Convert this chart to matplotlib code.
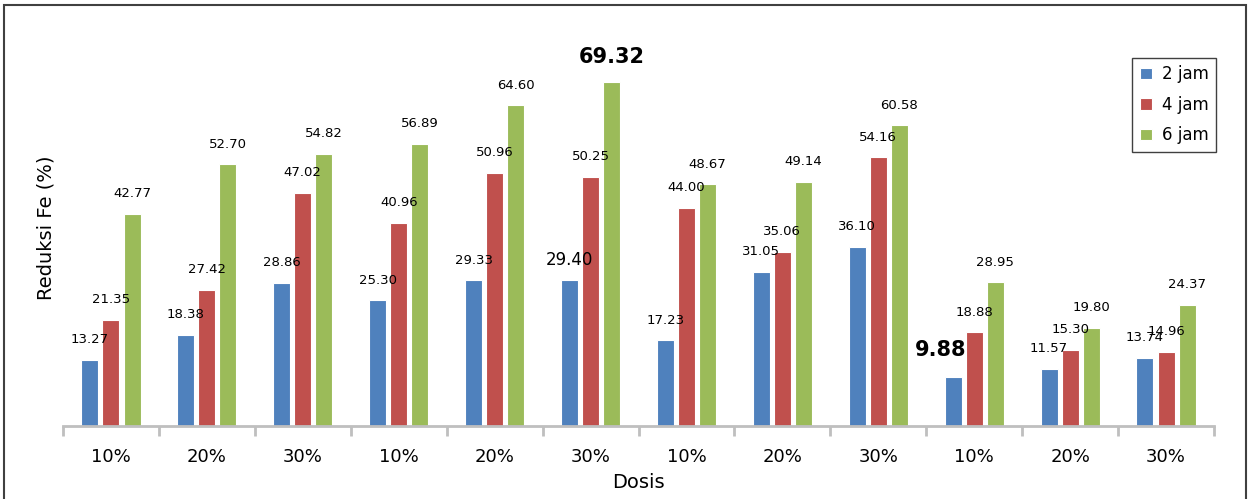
import numpy as np
import matplotlib.pyplot as plt
from matplotlib.patches import Rectangle

# data
dosis = ["10%", "20%", "30%", "10%", "20%", "30%", "10%", "20%", "30%", "10%", "20%", "30%"]
series_names = ["2 jam", "4 jam", "6 jam"]
jam2 = [13.27, 18.38, 28.86, 25.30, 29.33, 29.40, 17.23, 31.05, 36.10, 9.88, 11.57, 13.74]
jam4 = [21.35, 27.42, 47.02, 40.96, 50.96, 50.25, 44.00, 35.06, 54.16, 18.88, 15.30, 14.96]
jam6 = [42.77, 52.70, 54.82, 56.89, 64.60, 69.32, 48.67, 49.14, 60.58, 28.95, 19.80, 24.37]

colors = ["#4F81BD", "#C0504D", "#9BBB59"]

fig = plt.figure(figsize=(12.5, 4.99), dpi=100)
ax = fig.add_axes([0.0504, 0.1463, 0.9208, 0.7956])

x = np.arange(len(dosis))
width = 0.177
offset = 0.22

for i, (vals, name) in enumerate(zip([jam2, jam4, jam6], series_names)):
    pos = x + (i - 1) * offset
    ax.bar(pos, vals, width, color=colors[i], edgecolor="white", linewidth=0.8, label=name, zorder=2)
    for j, (p, v) in enumerate(zip(pos, vals)):
        txt = f"{v:.2f}"
        if i == 2 and j == 5:
            # highlighted maximum
            ax.annotate(txt, (p, v), xytext=(0, 14), textcoords="offset points",
                        ha="center", fontsize=15, fontweight="bold")
        elif i == 0 and j == 9:
            # highlighted minimum
            ax.annotate(txt, (p, v), xytext=(-9, 15), textcoords="offset points",
                        ha="center", fontsize=15, fontweight="bold")
        elif i == 0 and j == 5:
            ax.annotate(txt, (p, v), xytext=(0, 11), textcoords="offset points",
                        ha="center", fontsize=12)
        else:
            ax.annotate(txt, (p, v), xytext=(0, 12), textcoords="offset points",
                        ha="center", fontsize=9.5)

ax.set_xlim(-0.5, len(dosis) - 0.5)
ax.set_ylim(0, 80)

for s in ["top", "right", "left"]:
    ax.spines[s].set_visible(False)
ax.spines["bottom"].set_color("#BFBFBF")
ax.spines["bottom"].set_linewidth(2)
ax.set_yticks([])

ax.set_xticks(x)
ax.set_xticklabels(dosis, fontsize=13)
ax.tick_params(axis="x", which="major", length=0, pad=16)
ax.set_xticks(np.arange(-0.5, len(dosis)), minor=True)
ax.tick_params(axis="x", which="minor", length=7, width=2, color="#BFBFBF")

ax.set_xlabel("Dosis", fontsize=14, labelpad=5)
ax.set_ylabel("Reduksi Fe (%)", fontsize=14)
ax.yaxis.set_label_coords(-0.0068, 0.5)

leg = fig.legend(loc="upper right", bbox_to_anchor=(0.9728, 0.8838), fontsize=12,
                 frameon=True, fancybox=False, edgecolor="#404040", framealpha=1,
                 handlelength=0.7, handleheight=0.7, borderpad=0.45, labelspacing=0.75,
                 handletextpad=0.6, borderaxespad=0)
leg.get_frame().set_linewidth(1)

fig.patches.append(Rectangle((0.003, -0.01), 0.994, 1.0, transform=fig.transFigure,
                             fill=False, edgecolor="#404040", linewidth=1.5))

fig.savefig("out.png", dpi=100)
